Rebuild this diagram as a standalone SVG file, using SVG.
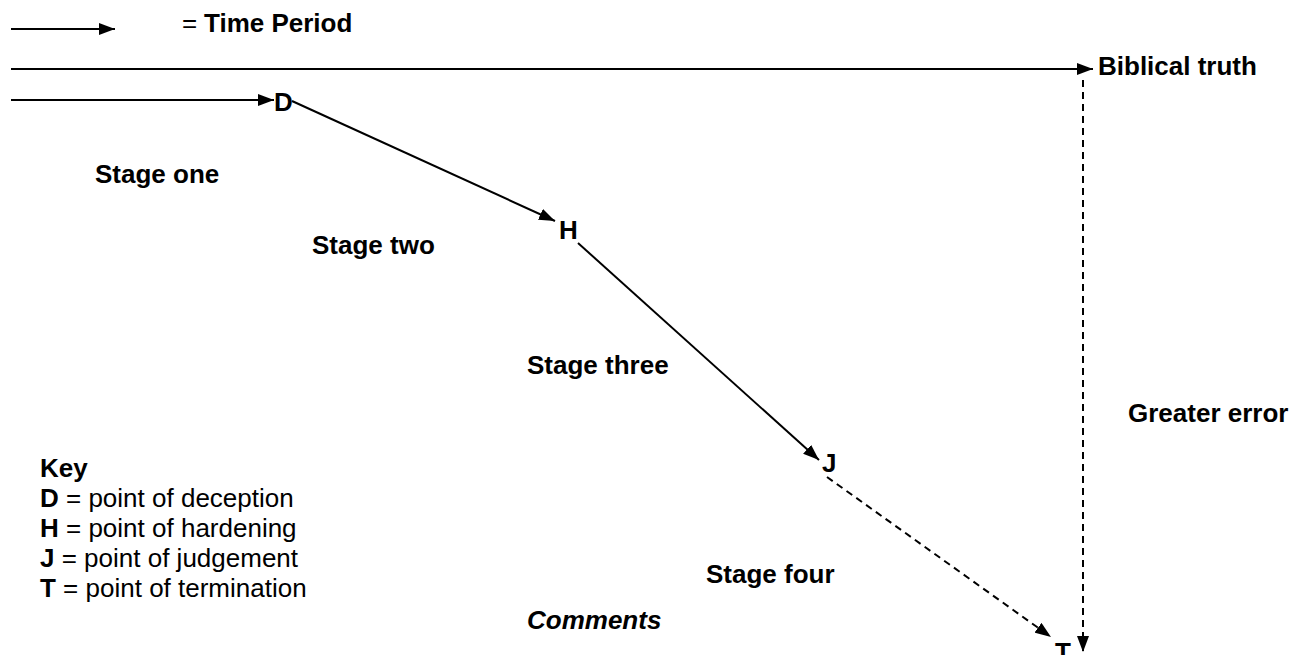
<svg xmlns="http://www.w3.org/2000/svg" width="1307" height="655" viewBox="0 0 1307 655">
<style>
text{font-family:"Liberation Sans",Arial,sans-serif;font-size:26px;fill:#000}
.b{font-weight:bold}
.i{font-style:italic;font-weight:bold}
.ln{stroke:#000;stroke-width:2;fill:none}
.ds{stroke-dasharray:7 5}
</style>
<defs>
<marker id="ah" markerUnits="userSpaceOnUse" markerWidth="16" markerHeight="12" refX="16" refY="6" orient="auto" viewBox="0 0 16 12">
<path d="M0,0 L16,6 L0,12 z" fill="#000"/>
</marker>
</defs>
<g id="connectors">
<line class="ln" x1="11" y1="29" x2="115" y2="29" marker-end="url(#ah)"/>
<line class="ln" x1="11" y1="69" x2="1093" y2="69" marker-end="url(#ah)"/>
<line class="ln" x1="11" y1="100" x2="274" y2="100" marker-end="url(#ah)"/>
<line class="ln" x1="292" y1="101" x2="555" y2="221" marker-end="url(#ah)"/>
<line class="ln" x1="578" y1="243" x2="819" y2="460" marker-end="url(#ah)"/>
<line class="ln ds" x1="827" y1="477" x2="1051" y2="637" marker-end="url(#ah)"/>
<line class="ln ds" x1="1083" y1="80" x2="1083" y2="652" marker-end="url(#ah)"/>
</g>
<g id="legend"><text x="182" y="32"><tspan>=</tspan><tspan class="b" x="204">Time Period</tspan></text></g>
<g id="biblical-truth"><text class="b" x="1098" y="75">Biblical truth</text></g>
<g id="D"><text class="b" x="274" y="111">D</text></g>
<g id="H"><text class="b" x="559" y="239">H</text></g>
<g id="J"><text class="b" x="822" y="472">J</text></g>
<g id="T"><text class="b" x="1055" y="661">T</text></g>
<g id="stage-one"><text class="b" x="95" y="183">Stage one</text></g>
<g id="stage-two"><text class="b" x="312" y="254">Stage two</text></g>
<g id="stage-three"><text class="b" x="527" y="374">Stage three</text></g>
<g id="stage-four"><text class="b" x="706" y="583">Stage four</text></g>
<g id="greater-error"><text class="b" x="1128" y="422">Greater error</text></g>
<g id="comments"><text class="i" x="527" y="629">Comments</text></g>
<g id="key">
<text class="b" x="40" y="477">Key</text>
<text x="40" y="507"><tspan class="b">D</tspan> = point of deception</text>
<text x="40" y="537"><tspan class="b">H</tspan> = point of hardening</text>
<text x="40" y="567"><tspan class="b">J</tspan> = point of judgement</text>
<text x="40" y="597"><tspan class="b">T</tspan> = point of termination</text>
</g>
</svg>
